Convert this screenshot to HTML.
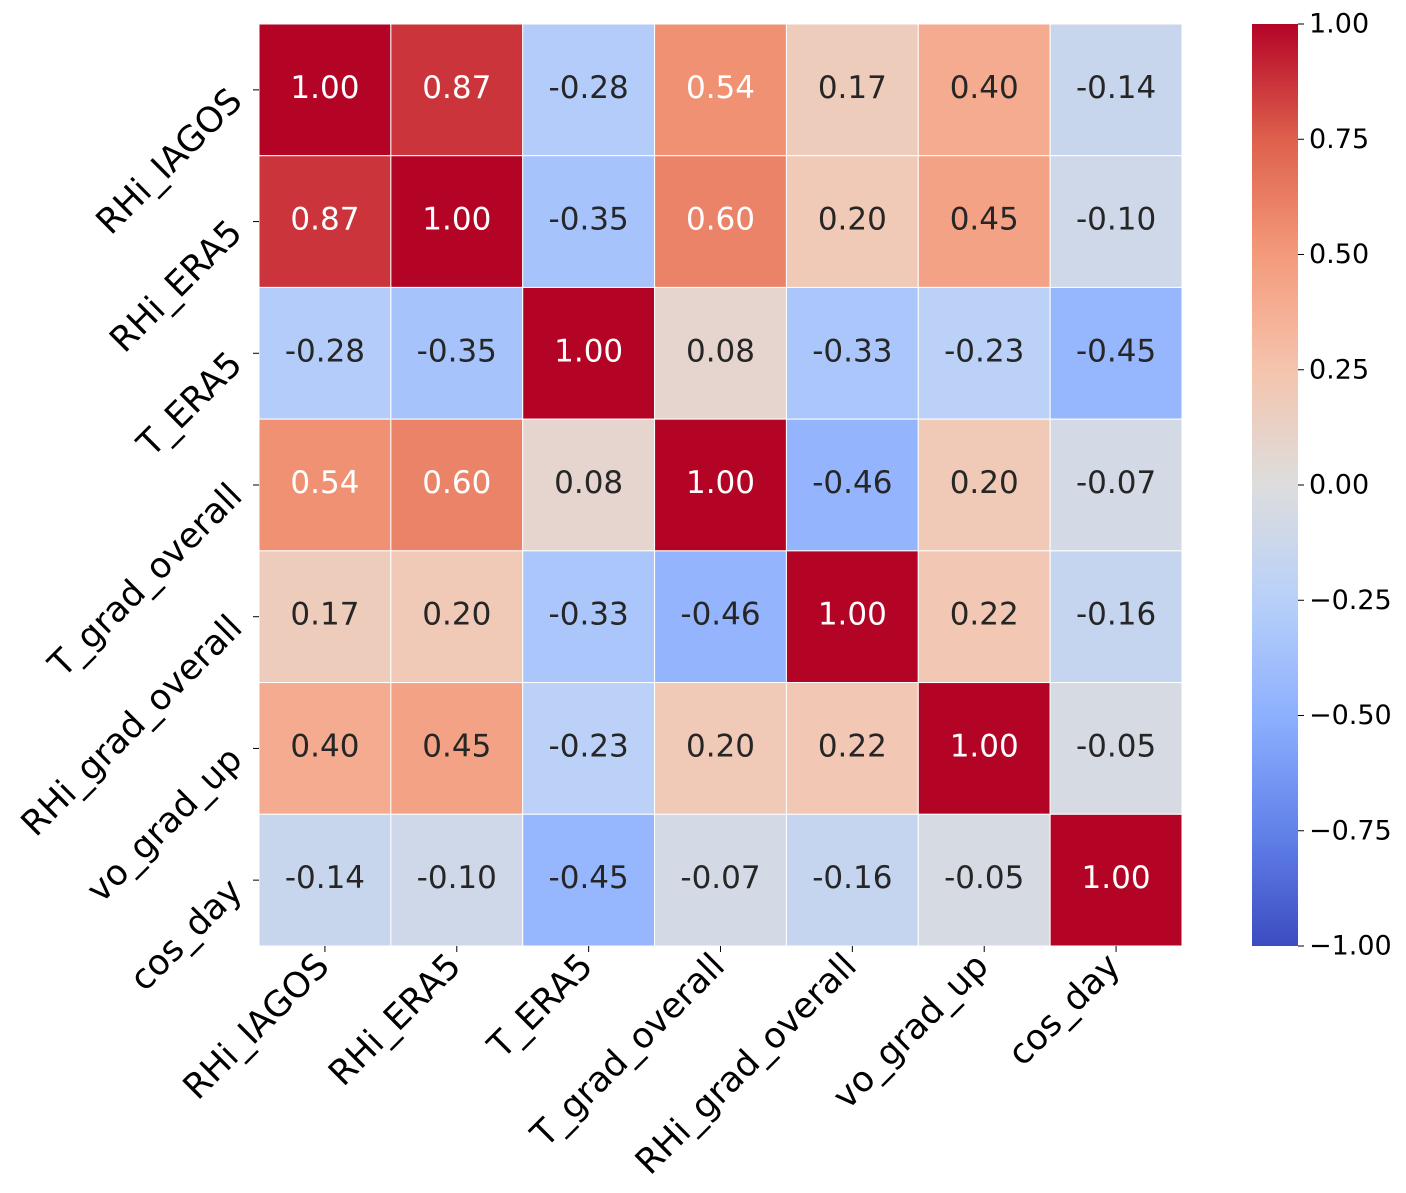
<!DOCTYPE html>
<html><head><meta charset="utf-8"><style>
body{margin:0;background:#fff;}
svg{display:block;font-family:"DejaVu Sans","Liberation Sans",sans-serif;}
</style></head><body>
<svg id="chart" width="1406" height="1193" viewBox="0 0 1406 1193">
<defs><linearGradient id="cbg" x1="0" y1="1" x2="0" y2="0"></linearGradient></defs>
<g id="cells"></g>
<g id="annots"></g>
<g id="yaxis"></g>
<g id="xaxis"></g>
<rect x="1252" y="24" width="46" height="922" fill="url(#cbg)"/>
<g id="cbaxis"></g>
</svg>
<script>
const labels = ["RHi_IAGOS","RHi_ERA5","T_ERA5","T_grad_overall","RHi_grad_overall","vo_grad_up","cos_day"];
const row0 = [1.00,0.87,-0.28,0.54,0.17,0.40,-0.14];
const row1 = [0.87,1.00,-0.35,0.60,0.20,0.45,-0.10];
const row2 = [-0.28,-0.35,1.00,0.08,-0.33,-0.23,-0.45];
const row3 = [0.54,0.60,0.08,1.00,-0.46,0.20,-0.07];
const row4 = [0.17,0.20,-0.33,-0.46,1.00,0.22,-0.16];
const row5 = [0.40,0.45,-0.23,0.20,0.22,1.00,-0.05];
const row6 = [-0.14,-0.10,-0.45,-0.07,-0.16,-0.05,1.00];
const matrix = [row0,row1,row2,row3,row4,row5,row6];
const cbTicks = [1.00,0.75,0.50,0.25,0.00,-0.25,-0.50,-0.75,-1.00];

const NS="http://www.w3.org/2000/svg";
const L=259,R=1182,T=24,B=946,n=labels.length;
const cw=(R-L)/n, ch=(B-T)/n;
const xPos=i=>L+i*cw, yPos=i=>T+i*ch;
const vY=v=>T+(1-v)/2*(B-T);
const cmap=[[59,76,192],[98,130,234],[141,176,254],[184,208,249],[221,221,221],[245,196,173],[244,154,123],[222,96,77],[180,4,38]];
function color(v){let t=(v+1)/2*8;t=Math.max(0,Math.min(8,t));const i=Math.min(7,Math.floor(t)),f=t-i;
 const c=cmap[i].map((a,k)=>Math.round(a+(cmap[i+1][k]-a)*f));return c;}
function lum(c){const l=c.map(x=>{x/=255;return x<=0.03928?x/12.92:Math.pow((x+0.055)/1.055,2.4)});return 0.2126*l[0]+0.7152*l[1]+0.0722*l[2];}
function mk(tag,attrs,parent){const e=document.createElementNS(NS,tag);for(const k in attrs)e.setAttribute(k,attrs[k]);parent.appendChild(e);return e;}
const cells=document.getElementById('cells'),annots=document.getElementById('annots');
matrix.forEach((row,r)=>row.forEach((v,c)=>{
 const col=color(v);
 const rc=mk('rect',{x:xPos(c),y:yPos(r),width:cw,height:ch,fill:`rgb(${col})`,stroke:'#fff','stroke-width':1},cells);
 
 
 const t=mk('text',{x:xPos(c)+cw/2,y:yPos(r)+ch/2-2,'text-anchor':'middle','dominant-baseline':'central','font-size':31,fill:lum(col)<0.408?'#fff':'#262626'},annots);
 t.textContent=v.toFixed(2);
 
 
}));
const ya=document.getElementById('yaxis'),xa=document.getElementById('xaxis');
labels.forEach((lb,i)=>{
 const cy=yPos(i)+ch/2;
 mk('line',{x1:253,y1:cy,x2:259,y2:cy,stroke:'#000','stroke-width':1},ya);
 const ax=244,ay=cy+13;
 const t=mk('text',{x:ax,y:ay,'text-anchor':'end','font-size':35,fill:'#000',transform:`rotate(-45 ${ax} ${ay})`},ya);
 t.textContent=lb;
 
 
 const cx=xPos(i)+cw/2;
 mk('line',{x1:cx,y1:946,x2:cx,y2:952,stroke:'#000','stroke-width':1},xa);
 const tx=cx+6,ty=968;
 const u=mk('text',{x:tx,y:ty,'text-anchor':'end','font-size':35,fill:'#000',transform:`rotate(-45 ${tx} ${ty})`},xa);
 u.textContent=lb;
 
 
});
const g=document.getElementById('cbg');
for(let k=0;k<=16;k++){const v=-1+k/8;mk('stop',{offset:k/16,'stop-color':`rgb(${color(v)})`},g);}
const cb=document.getElementById('cbaxis');
cbTicks.forEach(v=>{
 const y=vY(v);
 mk('line',{x1:1298,y1:y,x2:1304,y2:y,stroke:'#000','stroke-width':1},cb);
 const t=mk('text',{x:1309,y:y,'dominant-baseline':'central','font-size':27,fill:'#000'},cb);
 t.textContent=v.toFixed(2).replace('-','\u2212');
 
 
});
</script>
</body></html>
